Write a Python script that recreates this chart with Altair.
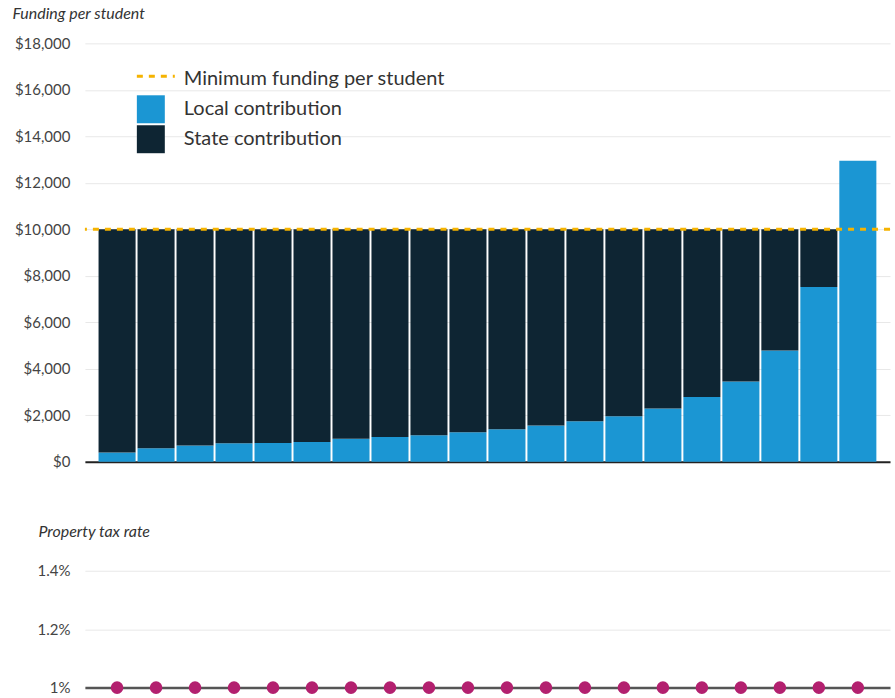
import altair as alt
import pandas as pd

# ---- data ----
districts = list(range(1, 21))
local_contribution = [400, 590, 700, 800, 810, 860, 990, 1070, 1150, 1270,
                      1400, 1560, 1750, 1960, 2300, 2790, 3460, 4790, 7520, 12950]
state_contribution = [9600, 9410, 9300, 9200, 9190, 9140, 9010, 8930, 8850, 8730,
                      8600, 8440, 8250, 8040, 7700, 7210, 6540, 5210, 2480, 0]
minimum_funding = [10000]
tax_rate = [1.0] * 20
series_names = ["Local contribution", "State contribution"]
legend_line_label = ["Minimum funding per student"]
y_ticks_funding = [0, 2000, 4000, 6000, 8000, 10000, 12000, 14000, 16000, 18000]
y_ticks_tax = [1.0, 1.2, 1.4]

BLUE = "#1b96d3"
NAVY = "#0e2533"
GOLD = "#f5b301"
MAGENTA = "#b3206f"
FONT = "Lato"

rows = []
for d, l, s in zip(districts, local_contribution, state_contribution):
    rows.append({"district": d, "component": series_names[0], "value": l, "ord": 0})
    rows.append({"district": d, "component": series_names[1], "value": s, "ord": 1})
bars_df = pd.DataFrame(rows)
min_df = pd.DataFrame({"minimum": minimum_funding})
tax_df = pd.DataFrame({"district": districts, "rate": tax_rate})

x_scale = alt.Scale(type="band", paddingInner=0.05, paddingOuter=0.35)

W = 806

bars = alt.Chart(bars_df).mark_bar().encode(
    x=alt.X("district:O", scale=x_scale,
            axis=alt.Axis(labels=False, ticks=False, title=None,
                          domainColor="#222222", domainWidth=2)),
    y=alt.Y("value:Q", stack="zero",
            scale=alt.Scale(domain=[0, 18000], nice=False),
            axis=alt.Axis(values=y_ticks_funding, format="$,.0f",
                          title="Funding per student", titleAngle=0,
                          titleAlign="left", titleBaseline="middle",
                          titleX=-73, titleY=-30, titleFont=FONT,
                          titleFontStyle="italic", titleFontWeight="normal",
                          titleFontSize=16, titleColor="#333333",
                          labelFont=FONT, labelFontSize=15, labelColor="#444444",
                          labelPadding=15, ticks=False, domain=False,
                          grid=True, gridColor="#e8e8e8", gridWidth=1)),
    color=alt.Color("component:N",
                    scale=alt.Scale(domain=series_names, range=[BLUE, NAVY]),
                    legend=None),
    order=alt.Order("ord:Q"),
)

min_rule = alt.Chart(min_df).mark_rule(
    color=GOLD, strokeWidth=3, strokeDash=[6, 6]
).encode(y="minimum:Q")

# manual legend
leg_line = alt.Chart(min_df).mark_rule(
    color=GOLD, strokeWidth=3, strokeDash=[6, 6]
).encode(x=alt.value(52), x2=alt.value(90), y=alt.value(33))

leg_rect_df = pd.DataFrame({"component": series_names, "ord": [0, 1]})
leg_rect_local = alt.Chart(leg_rect_df.iloc[[0]]).mark_rect(color=BLUE).encode(
    x=alt.value(52), x2=alt.value(80), y=alt.value(52), y2=alt.value(80))
leg_rect_state = alt.Chart(leg_rect_df.iloc[[1]]).mark_rect(color=NAVY).encode(
    x=alt.value(52), x2=alt.value(80), y=alt.value(82), y2=alt.value(110))

leg_text_df = pd.DataFrame({"label": legend_line_label + series_names,
                            "ypos": [36, 66, 96]})
leg_text = alt.Chart(leg_text_df).mark_text(
    align="left", baseline="middle", font=FONT, fontSize=20, color="#333333"
).encode(
    x=alt.value(99),
    y=alt.Y("ypos:Q", scale=None),
    text="label:N",
)

top = alt.layer(bars, min_rule, leg_line, leg_rect_local, leg_rect_state, leg_text
                ).properties(width=W, height=419)

dots = alt.Chart(tax_df).mark_circle(size=160, opacity=1, color=MAGENTA).encode(
    x=alt.X("district:O", scale=x_scale, bandPosition=0.5,
            axis=alt.Axis(labels=False, ticks=False, title=None,
                          domainColor="#555555", domainWidth=2.5)),
    y=alt.Y("rate:Q", scale=alt.Scale(domain=[1.0, 1.4], nice=False, zero=False),
            axis=alt.Axis(values=y_ticks_tax,
                          labelExpr="datum.value + '%'",
                          title="Property tax rate", titleAngle=0,
                          titleAlign="left", titleBaseline="middle",
                          titleX=-47, titleY=-39, titleFont=FONT,
                          titleFontStyle="italic", titleFontWeight="normal",
                          titleFontSize=16, titleColor="#333333",
                          labelFont=FONT, labelFontSize=15, labelColor="#444444",
                          labelPadding=15, ticks=False, domain=False,
                          grid=True, gridColor="#e8e8e8", gridWidth=1)),
).properties(width=W, height=117)

chart = alt.vconcat(top, dots, spacing=54).properties(
    padding={"left": 12, "top": 5, "right": 3, "bottom": 0},
    background="white",
).configure_view(stroke=None)

chart.save("out.html", embed_options={"renderer": "svg", "actions": False})
